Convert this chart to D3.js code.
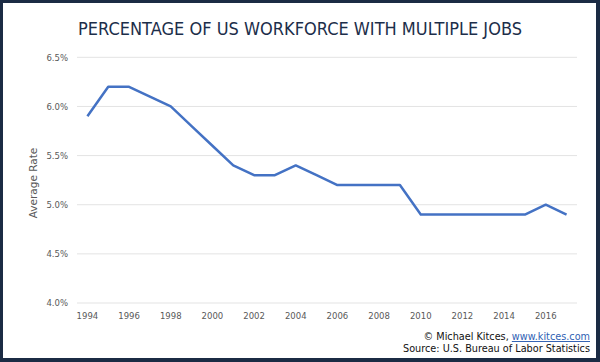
<!DOCTYPE html>
<html>
<head>
<meta charset="utf-8">
<script src="https://cdn.jsdelivr.net/npm/d3@7"></script>
<style>
  body { margin: 0; background: #1b2b44; }
  svg { display: block; }
</style>
</head>
<body>
<svg id="chart" width="600" height="362"></svg>
<script>
// data
const years = [1994, 1995, 1996, 1997, 1998, 1999, 2000, 2001, 2002, 2003, 2004, 2005,
               2006, 2007, 2008, 2009, 2010, 2011, 2012, 2013, 2014, 2015, 2016, 2017];
const rates = [5.9, 6.2, 6.2, 6.1, 6.0, 5.8, 5.6, 5.4, 5.3, 5.3, 5.4, 5.3,
               5.2, 5.2, 5.2, 5.2, 4.9, 4.9, 4.9, 4.9, 4.9, 4.9, 5.0, 4.9];
const yTicks = [4.0, 4.5, 5.0, 5.5, 6.0, 6.5];
const xTickYears = [1994, 1996, 1998, 2000, 2002, 2004, 2006, 2008, 2010, 2012, 2014, 2016];

const svg = d3.select("#chart");
const labelFont = "'DejaVu Sans', sans-serif";
const grey = "#595959";

// frame
svg.append("rect")
    .attr("width", 600).attr("height", 362)
    .attr("fill", "#1b2b44");
svg.append("rect")
    .attr("x", 3).attr("y", 3)
    .attr("width", 593).attr("height", 355)
    .attr("fill", "#fff");

const plotLeft = 77, plotRight = 577, plotTop = 57.3, plotBottom = 303;

const x = d3.scaleBand().domain(years).range([plotLeft, plotRight]);
const y = d3.scaleLinear().domain([4.0, 6.5]).range([plotBottom, plotTop]);

// gridlines
svg.append("g")
    .selectAll("line")
    .data(yTicks)
    .join("line")
    .attr("x1", plotLeft).attr("x2", plotRight)
    .attr("y1", d => y(d)).attr("y2", d => y(d))
    .attr("stroke", "#e3e3e3")
    .attr("stroke-width", 1);

// y axis
const yAxis = svg.append("g")
    .attr("transform", `translate(${plotLeft},0)`)
    .call(d3.axisLeft(y).tickValues(yTicks).tickFormat(d => d.toFixed(1) + "%").tickSize(0).tickPadding(9));
yAxis.select(".domain").remove();
yAxis.selectAll("text")
    .attr("font-family", labelFont)
    .attr("font-size", 8.5)
    .attr("fill", grey);

// x axis
const xAxis = svg.append("g")
    .attr("transform", `translate(0,${plotBottom})`)
    .call(d3.axisBottom(x).tickValues(xTickYears).tickSize(0).tickPadding(10));
xAxis.select(".domain").remove();
xAxis.selectAll("text")
    .attr("font-family", labelFont)
    .attr("font-size", 8.5)
    .attr("fill", grey);

// the line
const line = d3.line()
    .x((d, i) => x(years[i]) + x.bandwidth() / 2)
    .y(d => y(d));

svg.append("path")
    .datum(rates)
    .attr("d", line)
    .attr("fill", "none")
    .attr("stroke", "#4472c4")
    .attr("stroke-width", 2.5)
    .attr("stroke-linejoin", "round");

// axis title
svg.append("text")
    .attr("transform", "translate(37,183) rotate(-90)")
    .attr("text-anchor", "middle")
    .attr("font-family", labelFont)
    .attr("font-size", 10.5)
    .attr("fill", grey)
    .text("Average Rate");

// chart title
svg.append("text")
    .attr("x", 300).attr("y", 34.5)
    .attr("text-anchor", "middle")
    .attr("font-family", labelFont)
    .attr("font-size", 17)
    .attr("fill", "#1c2e4a")
    .attr("textLength", 444)
    .attr("lengthAdjust", "spacingAndGlyphs")
    .text("PERCENTAGE OF US WORKFORCE WITH MULTIPLE JOBS");

// credits
const credit = svg.append("text")
    .attr("x", 590).attr("y", 340)
    .attr("text-anchor", "end")
    .attr("font-family", labelFont)
    .attr("font-size", 9.7)
    .attr("fill", "#111");
credit.append("tspan").text("© Michael Kitces, ");
credit.append("tspan")
    .attr("fill", "#2f5fb3")
    .attr("text-decoration", "underline")
    .text("www.kitces.com");

svg.append("text")
    .attr("x", 590).attr("y", 352)
    .attr("text-anchor", "end")
    .attr("font-family", labelFont)
    .attr("font-size", 9.7)
    .attr("fill", "#111")
    .text("Source: U.S. Bureau of Labor Statistics");
</script>
</body>
</html>
